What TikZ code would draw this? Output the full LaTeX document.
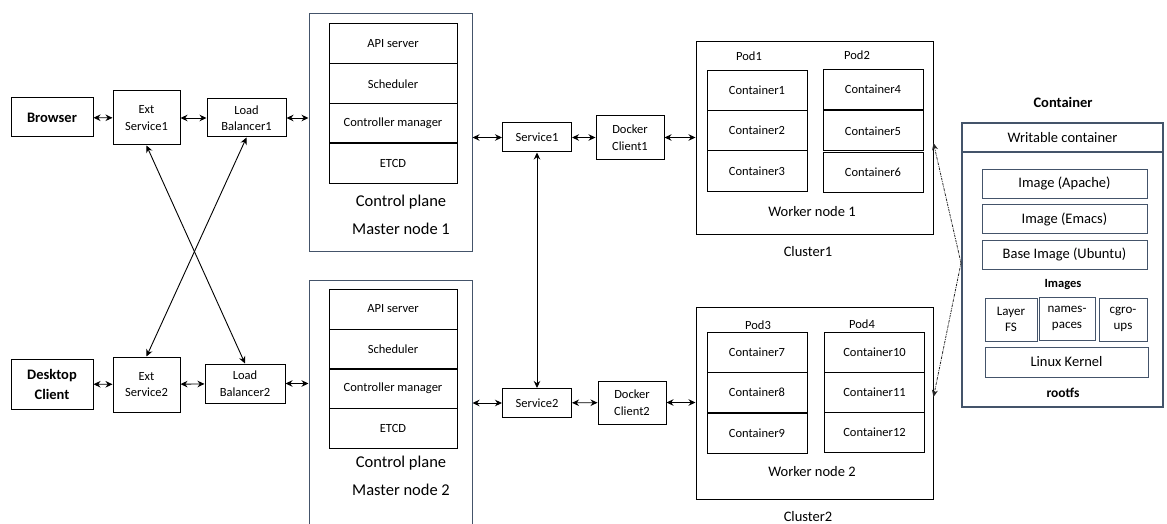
\documentclass[tikz,border=0pt]{standalone}
\usepackage{fontspec}
\setmainfont{Carlito}
\usepackage{tikz}
\usetikzlibrary{arrows.meta}

\definecolor{framecol}{RGB}{68,84,106}

\begin{document}
\begin{tikzpicture}[x=1pt,y=-1pt,
    box/.style={draw, line width=1pt, align=center, inner sep=0pt, font=\fontsize{12.5}{16.5}\selectfont},
    client/.style={box, minimum width=82pt, font=\bfseries\fontsize{14.5}{20}\selectfont},
    bigbox/.style={draw=framecol, line width=1pt},
    layer/.style={box, minimum width=128pt, minimum height=40pt},
    ctr/.style={box, minimum width=100pt, minimum height=40pt},
    img/.style={draw=framecol, line width=1pt, align=center, inner sep=0pt, font=\fontsize{14.5}{16}\selectfont},
    part/.style={img, minimum height=43pt, font=\fontsize{13}{16}\selectfont},
    title/.style={font=\fontsize{16.5}{18}\selectfont},
    caption/.style={font=\fontsize{14.5}{16}\selectfont},
    podlabel/.style={font=\fontsize{12.5}{14}\selectfont},
    link/.style={{Stealth[length=7pt,width=6.5pt]}-{Stealth[length=7pt,width=6.5pt]}, line width=0.9pt},
    dlink/.style={-{Stealth[length=7pt,width=6pt]}, line width=0.8pt, black!85,
        dash pattern=on 2.5pt off 1pt on 0.8pt off 1pt}
]
    % 画布
    \useasboundingbox (0,0) rectangle (1167,524);
    \clip (0,0) rectangle (1167,524);

    % 客户端
    \node[client, minimum height=39pt] (browser) at (52,117.5) {Browser};
    \node[client, minimum height=50pt] (desktop) at (52,384) {Desktop\\Client};

    % 外部服务和负载均衡
    \node[box, minimum width=67pt, minimum height=54pt] (ext1) at (146.5,118) {Ext\\Service1};
    \node[box, minimum width=67pt, minimum height=55pt] (ext2) at (146.5,384.5) {Ext\\Service2};
    \node[box, minimum width=79pt, minimum height=38pt] (lb1) at (246.5,118) {Load\\Balancer1};
    \node[box, minimum width=80pt, minimum height=39pt] (lb2) at (245,383.5) {Load\\Balancer2};

    % 主节点 1
    \node[bigbox, minimum width=163pt, minimum height=237pt] (master1) at (390.5,132.5) {};
    \node[layer] (api1) at (393,44) {API server};
    \node[layer] (sched1) at (393,84) {Scheduler};
    \node[layer] (cm1) at (393,123.5) {Controller manager};
    \node[layer] (etcd1) at (393,163) {ETCD};
    \node[title] (cp1) at (401,202) {Control plane};
    \node[title] (mn1) at (401,229) {Master node 1};

    % 主节点 2
    \node[bigbox, minimum width=163pt, minimum height=250pt] (master2) at (390.5,405) {};
    \node[layer] (api2) at (393,309) {API server};
    \node[layer] (sched2) at (393,349) {Scheduler};
    \node[layer] (cm2) at (393,388.5) {Controller manager};
    \node[layer] (etcd2) at (393,428) {ETCD};
    \node[title] (cp2) at (401,463) {Control plane};
    \node[title] (mn2) at (401,490) {Master node 2};

    % 服务和 Docker 客户端
    \node[box, minimum width=69pt, minimum height=29pt] (svc1) at (537,137.5) {Service1};
    \node[box, minimum width=69pt, minimum height=29pt] (svc2) at (537,403) {Service2};
    \node[box, minimum width=68pt, minimum height=43pt] (dock1) at (630,137.5) {Docker\\Client1};
    \node[box, minimum width=68pt, minimum height=43pt] (dock2) at (632,402.5) {Docker\\Client2};

    % 工作节点 1
    \node[box, minimum width=237pt, minimum height=192pt] (worker1) at (814.5,138) {};
    \node[podlabel] (pod1) at (749,56) {Pod1};
    \node[podlabel] (pod2) at (857,55) {Pod2};
    \node[ctr] (c1) at (757,90.5) {Container1};
    \node[ctr] (c2) at (757,130.5) {Container2};
    \node[ctr] (c3) at (757,171) {Container3};
    \node[ctr] (c4) at (873,89.5) {Container4};
    \node[ctr] (c5) at (873,131) {Container5};
    \node[ctr] (c6) at (873,172.5) {Container6};
    \node[caption] (wn1) at (812,212) {Worker node 1};
    \node[caption] (cl1) at (808,252) {Cluster1};

    % 工作节点 2
    \node[box, minimum width=237pt, minimum height=192pt] (worker2) at (814.5,403) {};
    \node[podlabel] (pod3) at (758,325) {Pod3};
    \node[podlabel] (pod4) at (862,324) {Pod4};
    \node[ctr] (c7) at (757,352) {Container7};
    \node[ctr] (c8) at (757,392.5) {Container8};
    \node[ctr] (c9) at (757,433) {Container9};
    \node[ctr] (c10) at (874.5,352) {Container10};
    \node[ctr] (c11) at (874.5,392) {Container11};
    \node[ctr] (c12) at (874.5,432.5) {Container12};
    \node[caption] (wn2) at (812,472) {Worker node 2};
    \node[caption] (cl2) at (808,517) {Cluster2};

    % 容器结构
    \node[font=\bfseries\fontsize{14.5}{16}\selectfont] (ctitle) at (1063,102) {Container};
    \node[draw=framecol, line width=1.5pt, minimum width=201pt, minimum height=284pt] (panel) at (1062.5,265) {};
    \node[img, line width=1.5pt, minimum width=201pt, minimum height=29pt] (writable) at (1062.5,137.5) {Writable container};
    \node[img, minimum width=165pt, minimum height=29pt] (img1) at (1064.5,183.5) {Image (Apache)};
    \node[img, minimum width=165pt, minimum height=29pt] (img2) at (1064.5,219) {Image (Emacs)};
    \node[img, minimum width=165pt, minimum height=29pt] (img3) at (1064.5,254.5) {Base Image (Ubuntu)};
    \node[font=\bfseries\fontsize{12.5}{14}\selectfont] (images) at (1063,285) {Images};
    \node[part, minimum width=52pt] (layerfs) at (1011,319.5) {Layer\\FS};
    \node[part, minimum width=56pt] (ns) at (1067,318.5) {names-\\paces};
    \node[part, minimum width=48pt] (cg) at (1123,319.5) {cgro-\\ups};
    \node[img, minimum width=163pt, minimum height=30pt] (kernel) at (1066.5,362) {Linux Kernel};
    \node[font=\bfseries\fontsize{13.5}{15}\selectfont] (rootfs) at (1063,393) {rootfs};

    % 连线
    \draw[link] (browser) -- (ext1);
    \draw[link] (ext1) -- (lb1);
    \draw[link] (lb1.east) -- (lb1.east -| master1.west);
    \draw[link] (master1.east |- svc1) -- (svc1);
    \draw[link] (svc1) -- (dock1);
    \draw[link] (dock1.east) -- (dock1.east -| worker1.west);
    \draw[link] (desktop) -- (ext2);
    \draw[link] (ext2) -- (lb2);
    \draw[link] (lb2.east) -- (lb2.east -| master2.west);
    \draw[link] (master2.east |- svc2) -- (svc2);
    \draw[link] (svc2) -- (dock2);
    \draw[link] (dock2.east) -- (dock2.east -| worker2.west);
    \draw[link] (svc1) -- (svc2);
    \draw[link] (ext1.south) -- (lb2.north);
    \draw[link] (lb1.south) -- (ext2.north);

    % 容器与工作节点
    \coordinate (split) at (961,263);
    \draw[dlink] (split) -- ([yshift=-5pt]worker1.east);
    \draw[dlink] (split) -- ([yshift=6pt]worker2.east);
\end{tikzpicture}
\end{document}
